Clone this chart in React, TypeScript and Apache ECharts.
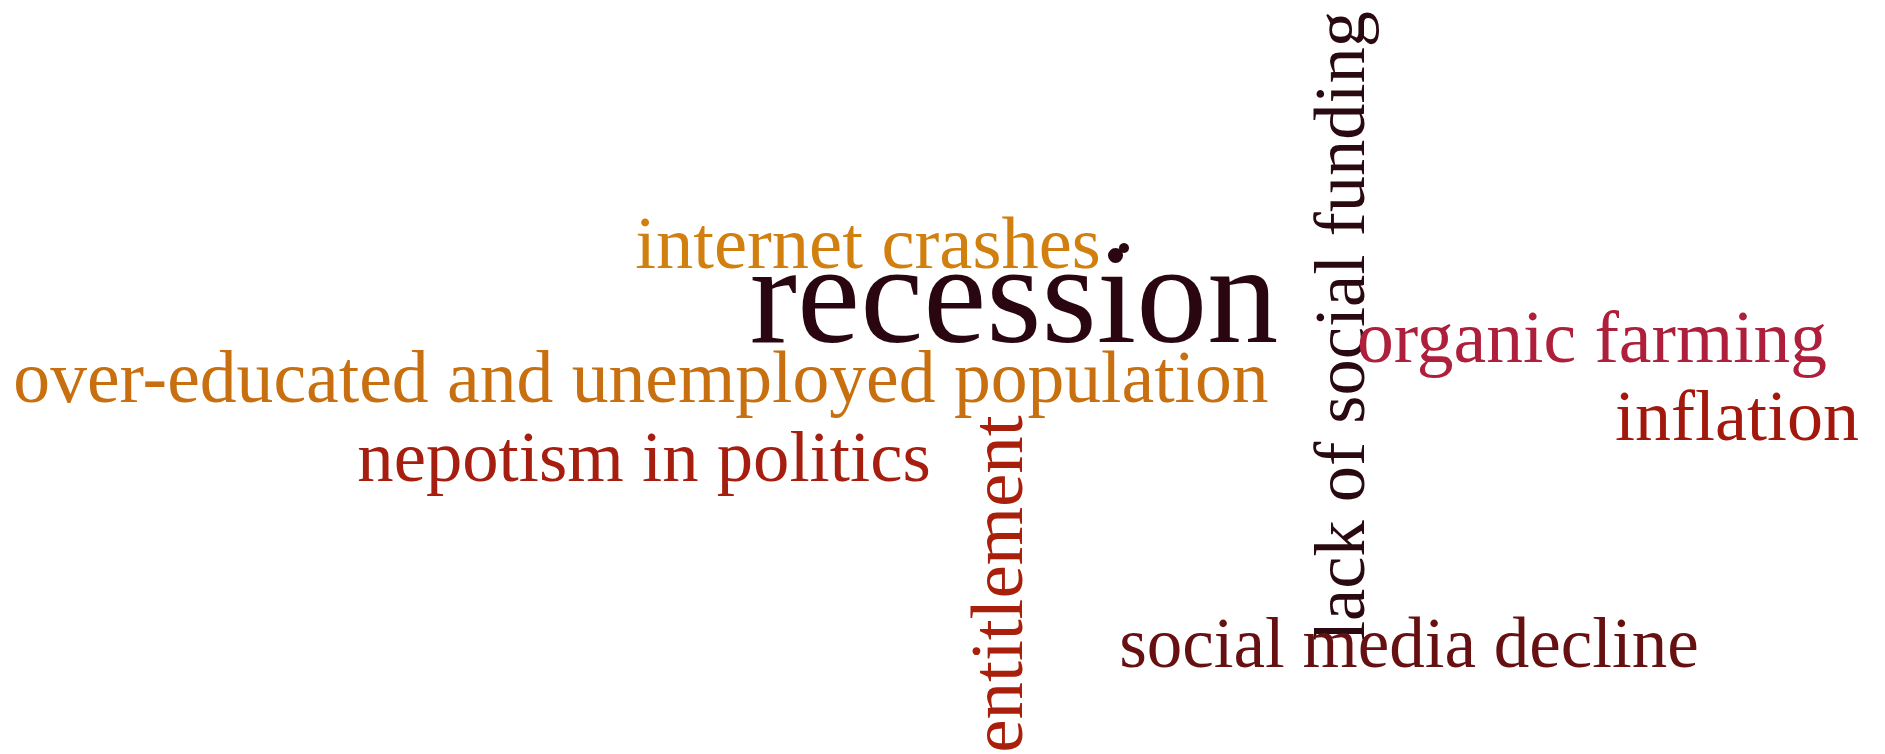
import React, { useEffect, useRef } from "react";
import * as echarts from "echarts";

// word cloud content
const words = [
  "recession",
  "internet crashes",
  "over-educated and unemployed population",
  "nepotism in politics",
  "entitlement",
  "lack of social funding",
  "organic farming",
  "inflation",
  "social media decline",
];
const weights = [10, 5, 5, 5, 5, 5, 5, 5, 5];

// layout (kept apart from the data)
const layoutX = [1014, 868, 641, 644, 996, 1339, 1592, 1737, 1409];
const layoutY = [294, 243, 377, 456, 584, 326, 337, 416, 643];
const fontSizes = [142, 74.5, 73.6, 72.7, 75, 72.5, 73.5, 72, 71];
const rotations = [0, 0, 0, 0, 90, 90, 0, 0, 0];
const colors = [
  "#2a0710",
  "#d17f0e",
  "#c8700f",
  "#a51e10",
  "#a8200c",
  "#2a0a10",
  "#ad1f3a",
  "#a3180c",
  "#661012",
];

// the tiny dot word next to "internet crashes"
const dotPoint = [1124, 248];

export default function App() {
  const ref = useRef<HTMLDivElement>(null);
  useEffect(() => {
    document.body.style.margin = "0";
    const chart = echarts.init(ref.current!, undefined, { renderer: "svg" });
    chart.setOption({
      animation: false,
      backgroundColor: "#ffffff",
      grid: { left: 0, right: 0, top: 0, bottom: 0 },
      xAxis: { type: "value", min: 0, max: 1885, show: false },
      yAxis: { type: "value", min: 0, max: 754, inverse: true, show: false },
      series: [
        {
          type: "scatter",
          silent: true,
          symbol: "circle",
          symbolSize: 1,
          itemStyle: { color: "rgba(0,0,0,0)", opacity: 1 },
          data: words.map((w, i) => ({
            name: w,
            value: [layoutX[i], layoutY[i], weights[i]],
            label: {
              show: true,
              position: "inside",
              formatter: w,
              fontFamily: "Liberation Serif",
              fontSize: fontSizes[i],
              rotate: rotations[i],
              color: colors[i],
              opacity: 1,
              align: "center",
              verticalAlign: "middle",
            },
          })),
        },
        {
          type: "scatter",
          silent: true,
          symbol: "circle",
          symbolSize: 10,
          itemStyle: { color: "#2a0a10", opacity: 1 },
          data: [dotPoint],
        },
      ],
    });
    return () => chart.dispose();
  }, []);
  return <div ref={ref} style={{ width: 1885, height: 754 }} />;
}
